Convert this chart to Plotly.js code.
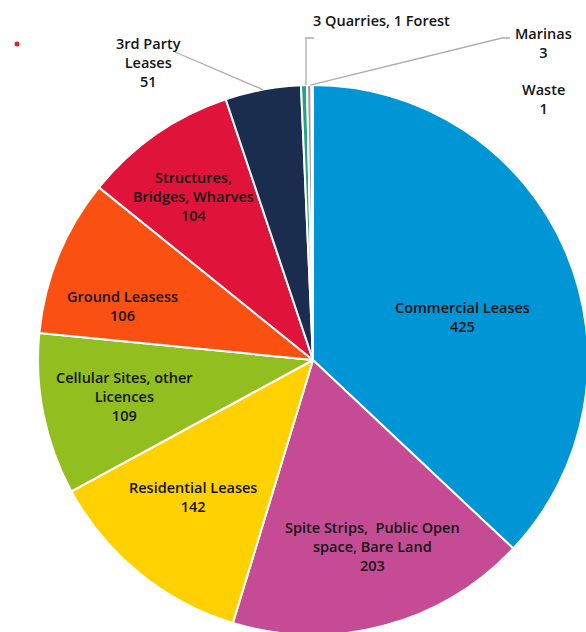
<!DOCTYPE html>
<html><head><meta charset="utf-8">
<script src="https://cdn.plot.ly/plotly-3.0.1.min.js"></script>
<style>html,body{margin:0;padding:0;overflow:hidden;background:#fff}#chart{width:600px;height:650px}</style>
</head><body><div id="chart"></div>
<script>
const categories = ["Commercial Leases","Spite Strips,  Public Open space, Bare Land","Residential Leases","Cellular Sites, other Licences","Ground Leasess","Structures, Bridges, Wharves","3rd Party Leases","3 Quarries, 1 Forest","Marinas","Waste"];
const values = [425,203,142,109,106,104,51,4,3,1];
const labelText = ["Commercial Leases<br>425","Spite Strips,  Public Open<br>space, Bare Land<br>203","Residential Leases<br>142","Cellular Sites, other<br>Licences<br>109","Ground Leasess<br>106","Structures,<br>Bridges, Wharves<br>104","3rd Party<br>Leases<br>51","3 Quarries, 1 Forest","Marinas<br>3","Waste<br>1"];
const colors = ["#0096D6","#C64B95","#FFD100","#93BE1F","#FA5012","#E0133A","#1B2D4E","#1FA584","#9A9A9A","#FFFFFF"];

const W=600,H=650;
const dom={x:[38/W,588/W],y:[15/H,565/H]};
const cx=(dom.x[0]+dom.x[1])/2*W, cy=H-(dom.y[0]+dom.y[1])/2*H, R=(dom.x[1]-dom.x[0])*W/2;
const total=values.reduce((a,b)=>a+b,0);
function edge(i){let c=0;for(let k=0;k<i;k++)c+=values[k];const a=(c+values[i]/2)/total*2*Math.PI;return [cx+R*Math.sin(a),cy-R*Math.cos(a)];}
const X=p=>p/W, Y=p=>(H-p)/H;
const font={family:"Open Sans, sans-serif",size:14.5,color:"#141414",weight:600};
// label anchor positions (page px)
const pos=[[462,317],[372,546],[193,497],[124,396],[122,306],[194,196],[148,63],[381,21],[543,43],[543,99]];
const annotations=pos.map((p,i)=>({x:X(p[0]),y:Y(p[1]),xref:'paper',yref:'paper',text:labelText[i],showarrow:false,font:font,align:'center',xanchor:'center',yanchor:'middle'}));
const e3=edge(6),eq=edge(7),em=edge(8);
const lineStyle={color:'#ADADAD',width:1.3};
const shapes=[
 {type:'path',xref:'paper',yref:'paper',path:`M${X(175)},${Y(52)} L${X(e3[0])},${Y(e3[1])}`,line:lineStyle},
 {type:'path',xref:'paper',yref:'paper',path:`M${X(314)},${Y(38)} L${X(eq[0]+2)},${Y(38)} L${X(eq[0]+2)},${Y(eq[1])}`,line:lineStyle},
 {type:'path',xref:'paper',yref:'paper',path:`M${X(510)},${Y(38)} L${X(502)},${Y(38)} L${X(em[0]+1)},${Y(em[1])}`,line:lineStyle},
 {type:'circle',xref:'paper',yref:'paper',x0:X(14.5),x1:X(19.5),y0:Y(41.5),y1:Y(46.5),fillcolor:'#E8202A',line:{width:0}}
];
Plotly.newPlot('chart',[{
  type:'pie',labels:categories,values:values,sort:false,direction:'clockwise',rotation:0,
  marker:{colors:colors,line:{color:'#FFFFFF',width:2}},textinfo:'none',hoverinfo:'label+value',
  domain:dom,showlegend:false
}],{width:W,height:H,margin:{l:0,r:0,t:0,b:0},paper_bgcolor:'#fff',annotations:annotations,shapes:shapes,showlegend:false},{displayModeBar:false,staticPlot:true});
</script></body></html>
